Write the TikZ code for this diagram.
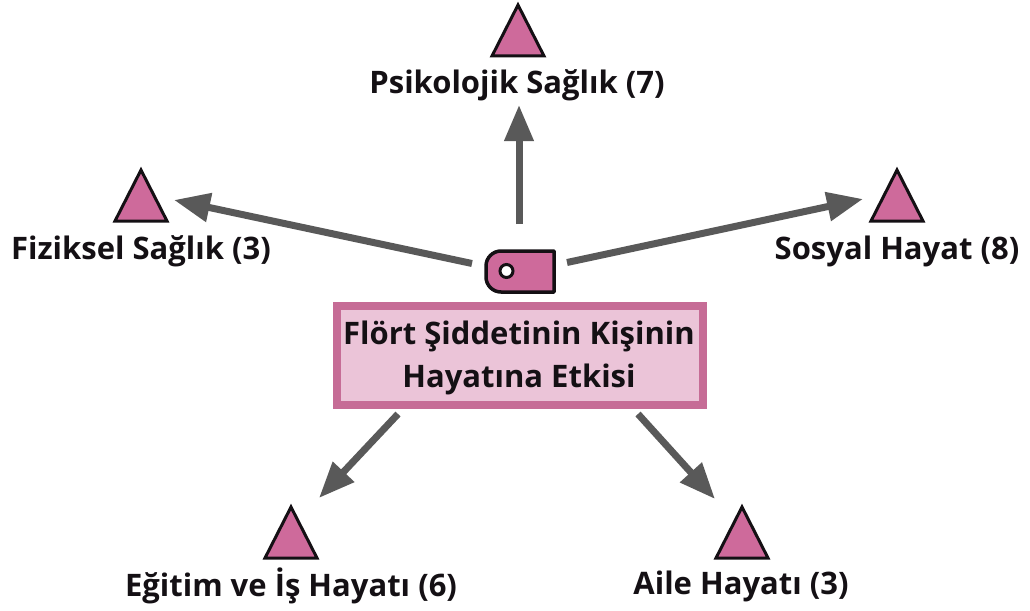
\documentclass[tikz,border=0pt]{standalone}
\usepackage{fontspec}
\setmainfont{Open Sans}
\usetikzlibrary{arrows.meta,shapes.geometric}
\definecolor{rosefill}{HTML}{CE6A9B}
\definecolor{roseedge}{HTML}{C66C96}
\definecolor{roselight}{HTML}{EBC4D8}
\definecolor{arrowgrey}{HTML}{595959}
\definecolor{inkblack}{HTML}{141014}
\tikzset{
  tri/.style={draw=inkblack,fill=rosefill,line width=3pt,isosceles triangle,isosceles triangle stretches=true,
    shape border rotate=90,minimum width=52pt,minimum height=51pt,inner sep=0pt,outer sep=0pt,anchor=lower side,line join=miter},
  lbl/.style={font=\bfseries\fontsize{31}{43}\selectfont,text=inkblack,inner sep=0pt,align=center},
  arr/.style={draw=arrowgrey,line width=7pt,-{Triangle[length=36pt,width=28pt]}},
  mainbox/.style={draw=roseedge,fill=roselight,line width=8pt,minimum width=366pt,minimum height=99pt,inner sep=0pt},
  tagline/.style={draw=inkblack,fill=rosefill,line width=3.5pt,line join=round},
}
\begin{document}
\begin{tikzpicture}[x=1pt,y=-1pt]
\useasboundingbox (0,0) rectangle (1030,610);
\node[tri] (triP) at (518,56) {};
\node[tri] (triF) at (141,221) {};
\node[tri] (triS) at (897,221) {};
\node[tri] (triE) at (291,558) {};
\node[tri] (triA) at (742,558) {};
\node[lbl] (lblP) at (517,85) {Psikolojik Sağlık (7)};
\node[lbl] (lblF) at (141,251) {Fiziksel Sağlık (3)};
\node[lbl] (lblS) at (897,251) {Sosyal Hayat (8)};
\node[lbl] (lblE) at (291,586) {Eğitim ve İş Hayatı (6)};
\node[lbl] (lblA) at (741,586) {Aile Hayatı (3)};
\node[mainbox] (main) at (520,355.5) {};
\node[lbl] (mainText) at (519,358) {Flört Şiddetinin Kişinin\\Hayatına Etkisi};
\node[inner sep=0pt,outer sep=0pt,minimum width=68pt,minimum height=41pt] (tag) at (520,271.5) {};
\draw[tagline] (tag.north east) -- ++(-53,0) arc[start angle=90,end angle=180,radius=15pt] -- ++(0,11) arc[start angle=180,end angle=270,radius=15pt] -- (tag.south east) -- cycle;
\node[circle,draw=inkblack,fill=white,line width=3pt,minimum size=13pt,inner sep=0pt] (hole) at (506.5,271) {};
\draw[arr] ([shift={(-48,-8)}]tag.center) -- ([shift={(33,-21)}]triF.lower side);
\draw[arr] ([shift={(47,-9)}]tag.center) -- ([shift={(-34,-22)}]triS.lower side);
\draw[arr] ([shift={(-1,-47.5)}]tag.center) -- ([shift={(2,20)}]lblP.center);
\draw[arr] ([shift={(-122,5)}]main.south) -- ([shift={(28,-9)}]triE.apex);
\draw[arr] ([shift={(118,5)}]main.south) -- ([shift={(-27,-8)}]triA.apex);
\end{tikzpicture}
\end{document}
